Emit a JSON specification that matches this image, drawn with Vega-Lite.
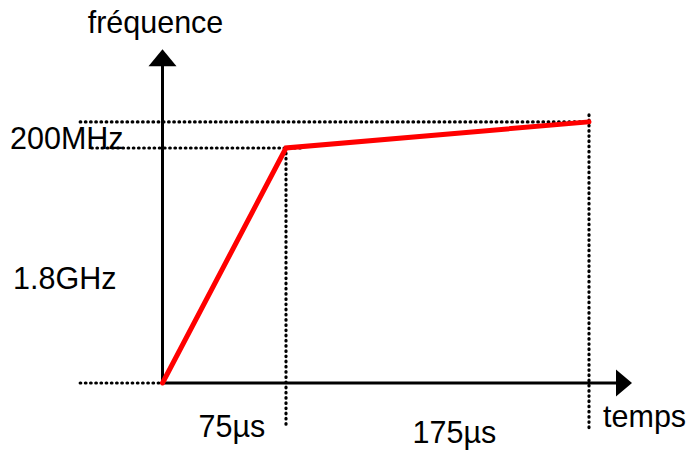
{
  "$schema": "https://vega.github.io/schema/vega-lite/v6.json",
  "width": 694,
  "height": 452,
  "padding": 0,
  "autosize": "none",
  "background": "white",
  "config": {"view": {"stroke": null}},
  "datasets": {
    "profile": [{"t": 0, "f": 0}, {"t": 75, "f": 1800}, {"t": 250, "f": 2000}],
    "guides": [
      {"t": -50, "t2": 250, "f": 2000, "f2": 2000},
      {"t": -43, "t2": 84, "f": 1800, "f2": 1800},
      {"t": -50, "t2": 0, "f": 0, "f2": 0},
      {"t": 75, "t2": 75, "f": 1800, "f2": -337},
      {"t": 250, "t2": 250, "f": 2053, "f2": -375}
    ],
    "axes": [
      {"t": 0, "t2": 0, "f": 0, "f2": 2440},
      {"t": 0, "t2": 266, "f": 0, "f2": 0}
    ],
    "arrowUp": [{"t": 0, "f": 2491}],
    "arrowRight": [{"t": 270.2, "f": 0}],
    "centredLabels": [
      {"text": "fréquence", "t": -4.25, "f": 2681},
      {"text": "75µs", "t": 42.2, "f": -416},
      {"text": "175µs", "t": 172.3, "f": -462}
    ],
    "leftLabels": [
      {"text": "200MHz", "t": -92.6, "f": 1792},
      {"text": "1.8GHz", "t": -90.8, "f": 720},
      {"text": "temps", "t": 258.1, "f": -337}
    ]
  },
  "layer": [
    {
      "data": {"name": "guides"},
      "mark": {"type": "rule", "color": "black", "strokeWidth": 3.2, "strokeDash": [0.6, 4.6], "strokeCap": "round"},
      "encoding": {
        "x": {"field": "t", "type": "quantitative", "axis": null, "scale": {"type": "linear", "domain": [-98.7, 0, 75, 250, 310.6], "range": [0, 162.5, 286, 589, 694], "zero": false, "nice": false}},
        "x2": {"field": "t2"},
        "y": {"field": "f", "type": "quantitative", "axis": null, "scale": {"domain": [-528.5, 2933.5], "zero": false, "nice": false}},
        "y2": {"field": "f2"}
      }
    },
    {
      "data": {"name": "axes"},
      "mark": {"type": "rule", "color": "black", "strokeWidth": 3},
      "encoding": {
        "x": {"field": "t", "type": "quantitative", "axis": null},
        "x2": {"field": "t2"},
        "y": {"field": "f", "type": "quantitative", "axis": null},
        "y2": {"field": "f2"}
      }
    },
    {
      "data": {"name": "arrowUp"},
      "mark": {"type": "point", "shape": "M-1,0.607L0,-0.607L1,0.607Z", "size": 784, "filled": true, "color": "black", "opacity": 1},
      "encoding": {
        "x": {"field": "t", "type": "quantitative", "axis": null},
        "y": {"field": "f", "type": "quantitative", "axis": null}
      }
    },
    {
      "data": {"name": "arrowRight"},
      "mark": {"type": "point", "shape": "M-0.593,-1L0.593,0L-0.593,1Z", "size": 729, "filled": true, "color": "black", "opacity": 1},
      "encoding": {
        "x": {"field": "t", "type": "quantitative", "axis": null},
        "y": {"field": "f", "type": "quantitative", "axis": null}
      }
    },
    {
      "data": {"name": "profile"},
      "mark": {"type": "line", "color": "#ff0000", "strokeWidth": 5, "strokeCap": "round", "strokeJoin": "miter"},
      "encoding": {
        "x": {"field": "t", "type": "quantitative", "axis": null},
        "y": {"field": "f", "type": "quantitative", "axis": null}
      }
    },
    {
      "data": {"name": "centredLabels"},
      "mark": {"type": "text", "align": "center", "baseline": "alphabetic", "font": "Liberation Sans", "fontSize": 30.5, "color": "black"},
      "encoding": {
        "x": {"field": "t", "type": "quantitative", "axis": null},
        "y": {"field": "f", "type": "quantitative", "axis": null},
        "text": {"field": "text"}
      }
    },
    {
      "data": {"name": "leftLabels"},
      "mark": {"type": "text", "align": "left", "baseline": "alphabetic", "font": "Liberation Sans", "fontSize": 30.5, "color": "black"},
      "encoding": {
        "x": {"field": "t", "type": "quantitative", "axis": null},
        "y": {"field": "f", "type": "quantitative", "axis": null},
        "text": {"field": "text"}
      }
    }
  ]
}
